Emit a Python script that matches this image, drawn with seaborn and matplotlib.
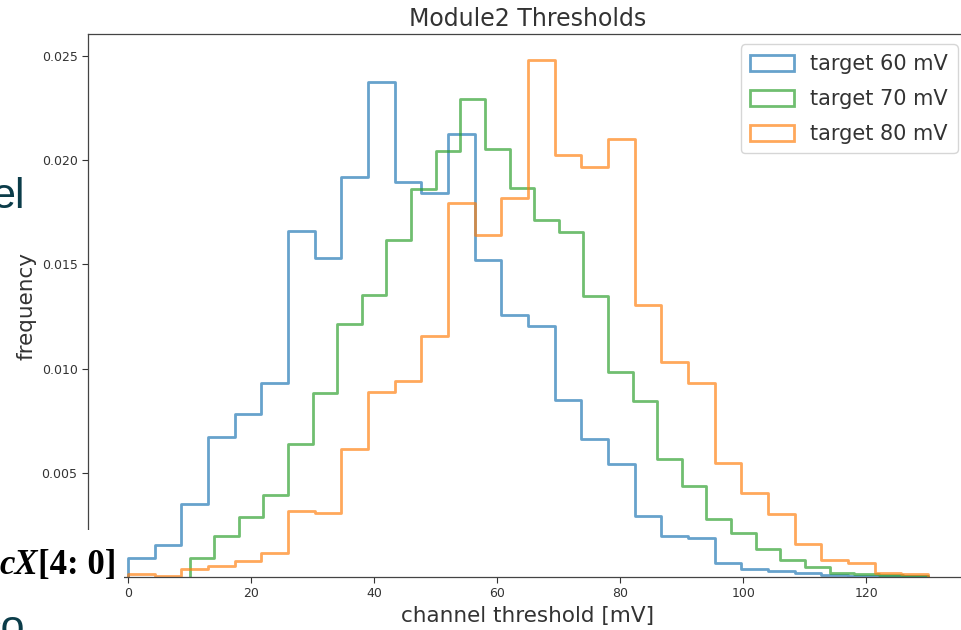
import numpy as np
import pandas as pd
import matplotlib
matplotlib.use("Agg")
import matplotlib.pyplot as plt
from matplotlib.patches import Patch, Rectangle
import seaborn as sns

# Threshold histograms: each series spans its own range with 30 equal bins,
# values are normalised frequencies (density) per bin.
range_60 = (0.0, 130.0)
freq_60 = [0.00091, 0.00154, 0.00349, 0.00673, 0.00782, 0.00932, 0.01660, 0.01532,
           0.01920, 0.02378, 0.01896, 0.01841, 0.02127, 0.01520, 0.01257, 0.01203,
           0.00848, 0.00662, 0.00540, 0.00292, 0.00197, 0.00185, 0.00068, 0.00036,
           0.00027, 0.00019, 0.00008, 0.00005, 0.00004, 0.00003]

range_70 = (10.0, 130.0)
freq_70 = [0.00091, 0.00199, 0.00290, 0.00394, 0.00637, 0.00884, 0.01216, 0.01351,
           0.01616, 0.01860, 0.02045, 0.02295, 0.02056, 0.01866, 0.01711, 0.01655,
           0.01348, 0.00983, 0.00843, 0.00567, 0.00436, 0.00280, 0.00210, 0.00134,
           0.00080, 0.00048, 0.00021, 0.00012, 0.00009, 0.00007]

range_80 = (0.0, 130.0)
freq_80 = [0.00014, 0.00005, 0.00040, 0.00051, 0.00075, 0.00115, 0.00317, 0.00309,
           0.00614, 0.00889, 0.00942, 0.01157, 0.01797, 0.01640, 0.01818, 0.02482,
           0.02023, 0.01968, 0.02102, 0.01305, 0.01033, 0.00930, 0.00547, 0.00402,
           0.00300, 0.00160, 0.00080, 0.00069, 0.00019, 0.00016]

labels = ["target 60 mV", "target 70 mV", "target 80 mV"]
colors = ["#1f77b4", "#2ca02c", "#ff7f0e"]

x_ticks = [0, 20, 40, 60, 80, 100, 120]
y_ticks = [0.0, 0.005, 0.010, 0.015, 0.020, 0.025]

sns.set_style("ticks")
plt.rcParams["font.family"] = ["DejaVu Sans"]
plt.rcParams["text.color"] = "#333333"

W, H = 961, 630
fig = plt.figure(figsize=(W / 100, H / 100), dpi=100)
ax = fig.add_axes([88 / W, 53 / H, 880 / W, 543 / H])

series = [(range_60, freq_60), (range_70, freq_70), (range_80, freq_80)]
for (lo_hi, freq), color in zip(series, colors):
    nbins = len(freq)
    edges = np.linspace(lo_hi[0], lo_hi[1], nbins + 1)
    df = pd.DataFrame({"threshold": 0.5 * (edges[:-1] + edges[1:]),
                       "freq": freq})
    sns.histplot(data=df, x="threshold", weights="freq", bins=nbins,
                 binrange=lo_hi, stat="count", element="step", fill=False,
                 color=color, alpha=0.68, linewidth=2.0, ax=ax)
    # close the outline down to the baseline at both ends
    line = ax.lines[-1]
    xs, ys = line.get_data()
    line.set_data(np.r_[xs[0], xs, xs[-1]], np.r_[0.0, ys, 0.0])

ax.set_xlim(-6.5, 136.5)
ax.set_ylim(0, 0.02606)
ax.set_xticks(x_ticks)
ax.set_yticks(y_ticks)
ax.set_yticklabels([f"{v:.3f}" for v in y_ticks])
ax.tick_params(labelsize=9, colors="#333333", length=4, width=0.8)
for side in ["left", "bottom", "top", "right"]:
    ax.spines[side].set_color("#444444")
    ax.spines[side].set_linewidth(0.9)

ax.set_xlabel("channel threshold [mV]", fontsize=15.5, color="#333333")
ax.set_ylabel("frequency", fontsize=15.5, color="#333333")
ax.set_title("Module2 Thresholds", fontsize=17, color="#333333")

handles = [Patch(facecolor="none", edgecolor=c, alpha=0.68, linewidth=2.0) for c in colors]
leg = ax.legend(handles, labels, loc="upper right", fontsize=15, frameon=True,
                handlelength=2.1, handleheight=0.8, labelspacing=0.72,
                borderaxespad=0.5, borderpad=0.45)
leg.get_frame().set_edgecolor("#cccccc")
for t in leg.get_texts():
    t.set_color("#333333")

# slide elements overlapping the figure
fig.add_artist(Rectangle((0, 0), 124 / W, 100 / H, transform=fig.transFigure,
                         facecolor="white", edgecolor="none", zorder=10))
fig.text(25 / W, 1 - 208 / H, "el", ha="right", va="baseline", fontsize=31,
         family="Liberation Sans", color="#0b3c49", zorder=11)
fig.text(25 / W, 1 - 640 / H, "co", ha="right", va="baseline", fontsize=31,
         family="Liberation Sans", color="#0b3c49", zorder=11)
fig.text(38 / W, 1 - 574 / H, "cX", ha="right", va="baseline", fontsize=25,
         family="Liberation Serif", weight="bold", style="italic", color="black",
         zorder=11)
fig.text(38 / W, 1 - 574 / H, "[4: 0]", ha="left", va="baseline", fontsize=25,
         family="Liberation Serif", weight="bold", color="black", zorder=11)

fig.savefig("out.png", dpi=100)
